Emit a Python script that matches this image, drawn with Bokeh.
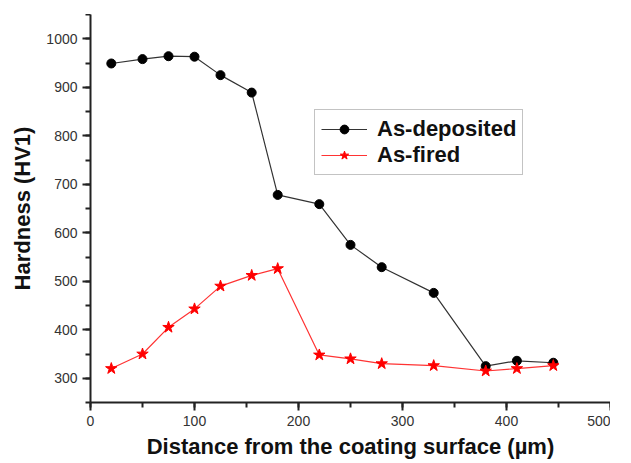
from bokeh.plotting import figure
from bokeh.models import Range1d, Legend, LegendItem
from bokeh.embed import file_html
from bokeh.resources import INLINE

# Data
dist_dep = [20, 50, 75, 100, 125, 155, 180, 220, 250, 280, 330, 380, 410, 445]
hard_dep = [949, 958, 964, 963, 925, 889, 678, 659, 575, 529, 476, 325, 336, 332]
dist_fired = [20, 50, 75, 100, 125, 155, 180, 220, 250, 280, 330, 380, 410, 445]
hard_fired = [320, 350, 405, 443, 490, 512, 526, 348, 340, 330, 326, 315, 320, 326]
labels = ["As-deposited", "As-fired"]
x_title = "Distance from the coating surface (µm)"
y_title = "Hardness (HV1)"

FONT = "Liberation Sans"

p = figure(frame_width=520, frame_height=388, output_backend="svg", toolbar_location=None,
           x_range=Range1d(0, 500), y_range=Range1d(250, 1050),
           min_border_left=0, min_border_right=0, min_border_top=0, min_border_bottom=0)
p.margin = (14, 13, 0, 7)
p.outline_line_color = None
p.grid.grid_line_color = None
p.background_fill_color = "white"

for ax in (p.xaxis[0], p.yaxis[0]):
    ax.axis_line_width = 2
    ax.axis_line_color = "#222222"
    ax.major_tick_line_color = "#222222"
    ax.minor_tick_line_color = "#222222"
    ax.major_tick_line_width = 2
    ax.minor_tick_line_width = 2
    ax.major_tick_out = 8
    ax.major_tick_in = 0
    ax.minor_tick_out = 5
    ax.minor_tick_in = 0
    ax.major_label_text_font = FONT
    ax.major_label_text_font_size = "14px"
    ax.major_label_text_color = "#333333"
    ax.major_label_text_line_height = 0.8
    ax.axis_label_text_font = FONT
    ax.axis_label_text_font_size = "22px"
    ax.axis_label_text_font_style = "bold"
    ax.axis_label_text_color = "#111111"
    ax.axis_label_text_line_height = 0.7
    ax.ticker.num_minor_ticks = 2

p.xaxis.ticker.desired_num_ticks = 6
p.yaxis.ticker.desired_num_ticks = 8
p.xaxis.axis_label = x_title
p.yaxis.axis_label = y_title
p.xaxis.major_label_standoff = 5
p.yaxis.major_label_standoff = 5
p.xaxis.axis_label_standoff = 5
p.yaxis.axis_label_standoff = 8

l1 = p.line(dist_dep, hard_dep, line_color="#333333", line_width=1.2)
s1 = p.scatter(dist_dep, hard_dep, marker="circle", size=9, fill_color="black", line_color="black")
l2 = p.line(dist_fired, hard_fired, line_color="#ff3333", line_width=1.2)
s2 = p.scatter(dist_fired, hard_fired, marker="star", size=12, fill_color="red", line_color="red")

legend = Legend(items=[LegendItem(label=labels[0], renderers=[l1, s1]),
                       LegendItem(label=labels[1], renderers=[l2, s2])],
                location=(224, 227))
legend.label_text_font = FONT
legend.label_text_font_size = "22px"
legend.label_text_font_style = "bold"
legend.label_text_color = "#111111"
legend.label_text_line_height = 0.9
legend.border_line_color = "#888888"
legend.border_line_width = 1.5
legend.glyph_width = 46
legend.glyph_height = 22
legend.label_height = 22
legend.label_standoff = 10
legend.padding = 6
legend.spacing = 0
legend.margin = 0
legend.background_fill_alpha = 1
p.add_layout(legend, "center")

open("out.html", "w").write(file_html(p, INLINE))
